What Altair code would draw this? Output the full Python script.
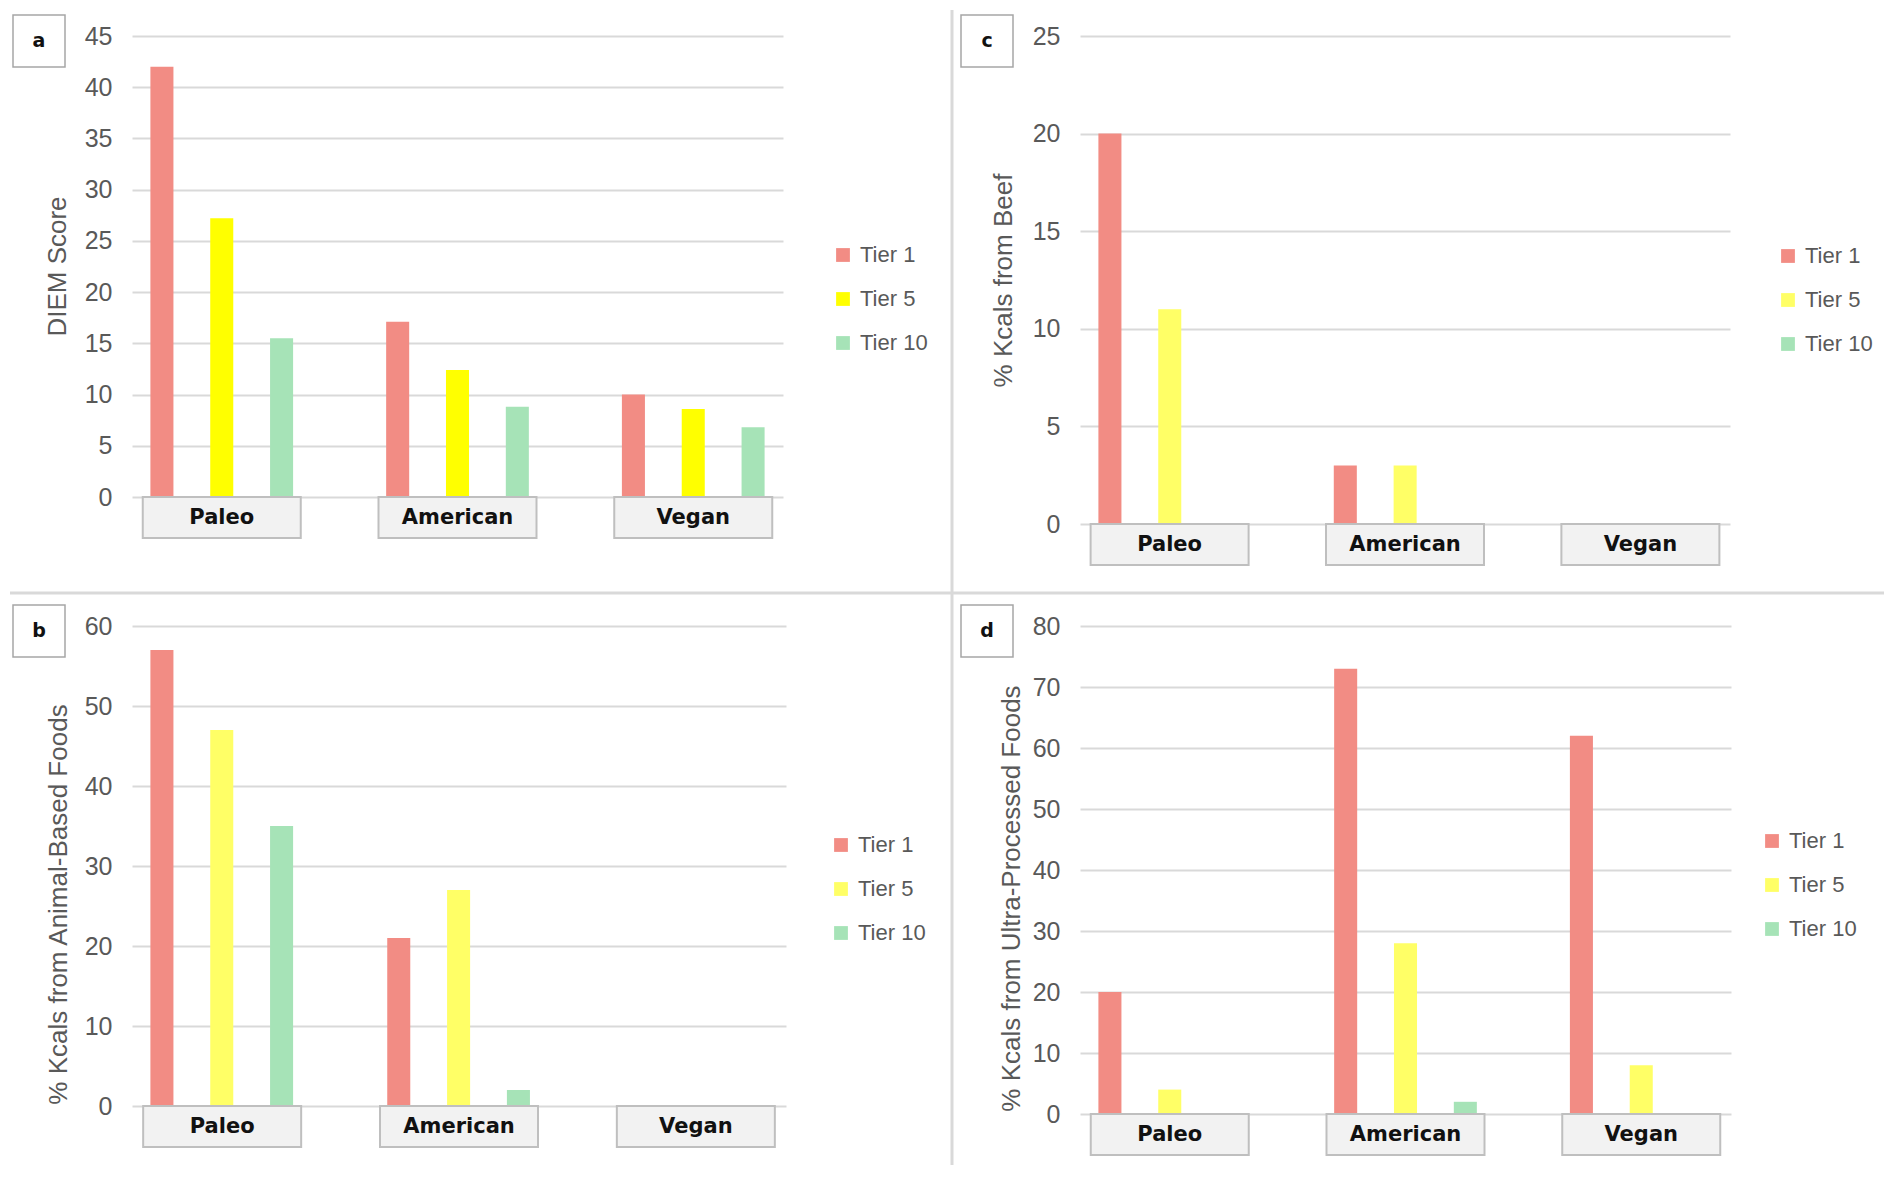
import altair as alt
import pandas as pd

diets = ["Paleo", "American", "Vegan"]
tiers = ["Tier 1", "Tier 5", "Tier 10"]

# Panel a: DIEM Score
diem_tier1 = [42.0, 17.1, 10.0]
diem_tier5 = [27.2, 12.4, 8.6]
diem_tier10 = [15.5, 8.8, 6.8]

# Panel b: % Kcals from Animal-Based Foods
animal_tier1 = [57, 21, 0]
animal_tier5 = [47, 27, 0]
animal_tier10 = [35, 2, 0]

# Panel c: % Kcals from Beef
beef_tier1 = [20, 3, 0]
beef_tier5 = [11, 3, 0]
beef_tier10 = [0, 0, 0]

# Panel d: % Kcals from Ultra-Processed Foods
upf_tier1 = [20, 73, 62]
upf_tier5 = [4, 28, 8]
upf_tier10 = [0, 2, 0]

colors_a = ["#F28C84", "#FFFF00", "#A6E3B7"]
colors_other = ["#F28C84", "#FFFF66", "#A6E3B7"]

GRAY = "#595959"


def long_df(t1, t5, t10):
    rows = []
    for vals, tier in zip([t1, t5, t10], tiers):
        for d, v in zip(diets, vals):
            rows.append({"diet": d, "tier": tier, "value": v})
    return pd.DataFrame(rows)


def panel(letter, t1, t5, t10, ytitle, ymax, ystep, width, height, colors,
          title_x, title_y, legend_x, legend_y, separators=False):
    df = long_df(t1, t5, t10)
    xscale = alt.Scale(domain=diets, paddingInner=0.2386, paddingOuter=0)
    bars = alt.Chart(df).mark_bar().encode(
        x=alt.X("diet:N", sort=diets, axis=None, scale=xscale),
        xOffset=alt.XOffset("tier:N", sort=tiers,
                            scale=alt.Scale(domain=tiers, paddingInner=0.615, paddingOuter=0.3075)),
        y=alt.Y("value:Q", stack=None,
                scale=alt.Scale(domain=[0, ymax], nice=False, zero=True),
                axis=alt.Axis(values=list(range(0, ymax + 1, ystep)), title=ytitle,
                              grid=True, gridColor="#D9D9D9", gridWidth=2,
                              domain=False, ticks=False,
                              labelFont="Liberation Sans", labelFontSize=25,
                              labelColor=GRAY, labelPadding=20,
                              titleFont="Liberation Sans", titleFontSize=26,
                              titleFontWeight="normal", titleColor=GRAY,
                              titleX=title_x, titleY=title_y, titleAngle=270,
                              titleAlign="center", titleBaseline="middle")),
        color=alt.Color("tier:N", sort=tiers,
                        scale=alt.Scale(domain=tiers, range=colors),
                        legend=alt.Legend(title=None, orient="none",
                                          legendX=legend_x, legendY=legend_y,
                                          direction="vertical",
                                          symbolType="square", symbolSize=190,
                                          symbolStrokeWidth=0,
                                          labelFont="Liberation Sans", labelFontSize=22,
                                          labelColor=GRAY, labelOffset=6,
                                          rowPadding=22)),
    )
    cat_df = pd.DataFrame({"diet": diets})
    boxes = alt.Chart(cat_df).mark_bar(size=158, fill="#F2F2F2", stroke="#BFBFBF",
                                       strokeWidth=2).encode(
        x=alt.X("diet:N", sort=diets, axis=None),
        y=alt.value(height), y2=alt.value(height + 41),
    )
    labels = alt.Chart(cat_df).mark_text(font="DejaVu Sans", fontWeight="bold", fontSize=21,
                                         color="#111111", align="center",
                                         baseline="middle").encode(
        x=alt.X("diet:N", sort=diets, axis=None),
        y=alt.value(height + 21),
        text="diet:N",
    )
    let_df = pd.DataFrame({"letter": [letter]})
    let_box = alt.Chart(let_df).mark_rect(fill="white", stroke="#A6A6A6",
                                          strokeWidth=1.5).encode(
        x=alt.value(-119), x2=alt.value(-67), y=alt.value(-21), y2=alt.value(31))
    let_txt = alt.Chart(let_df).mark_text(font="DejaVu Sans", fontWeight="bold", fontSize=19,
                                          color="#111111", align="center",
                                          baseline="middle").encode(
        x=alt.value(-93), y=alt.value(5), text="letter:N")
    layers = [bars, boxes, labels, let_box, let_txt]
    if separators:
        sep_df = pd.DataFrame({"s": [1]})
        hsep = alt.Chart(sep_df).mark_rule(color="#D9D9D9", strokeWidth=3).encode(
            x=alt.value(-122), x2=alt.value(1752), y=alt.value(557))
        vsep = alt.Chart(sep_df).mark_rule(color="#D9D9D9", strokeWidth=3).encode(
            x=alt.value(820), y=alt.value(-26), y2=alt.value(1129))
        layers = [hsep, vsep] + layers
    return alt.layer(*layers).properties(width=width, height=height)


pa = panel("a", diem_tier1, diem_tier5, diem_tier10, "DIEM Score", 45, 5, 651, 461,
           colors_a, -75, 230, 700, 208, separators=True)
pc = panel("c", beef_tier1, beef_tier5, beef_tier10, "% Kcals from Beef", 25, 5, 650, 488,
           colors_other, -77, 244, 697, 209)
pb = panel("b", animal_tier1, animal_tier5, animal_tier10, "% Kcals from Animal-Based Foods",
           60, 10, 654, 480, colors_other, -74, 278, 698, 208)
pd_ = panel("d", upf_tier1, upf_tier5, upf_tier10, "% Kcals from Ultra-Processed Foods",
            80, 10, 651, 488, colors_other, -69, 272, 681, 204)

chart = alt.concat(pa, pc, pb, pd_, columns=2, bounds="flush",
                   spacing={"row": 102, "column": 294}).resolve_scale(
    color="independent").properties(padding=0).configure_view(stroke="transparent")

chart.save("out.html", embed_options={"renderer": "svg", "actions": False})
